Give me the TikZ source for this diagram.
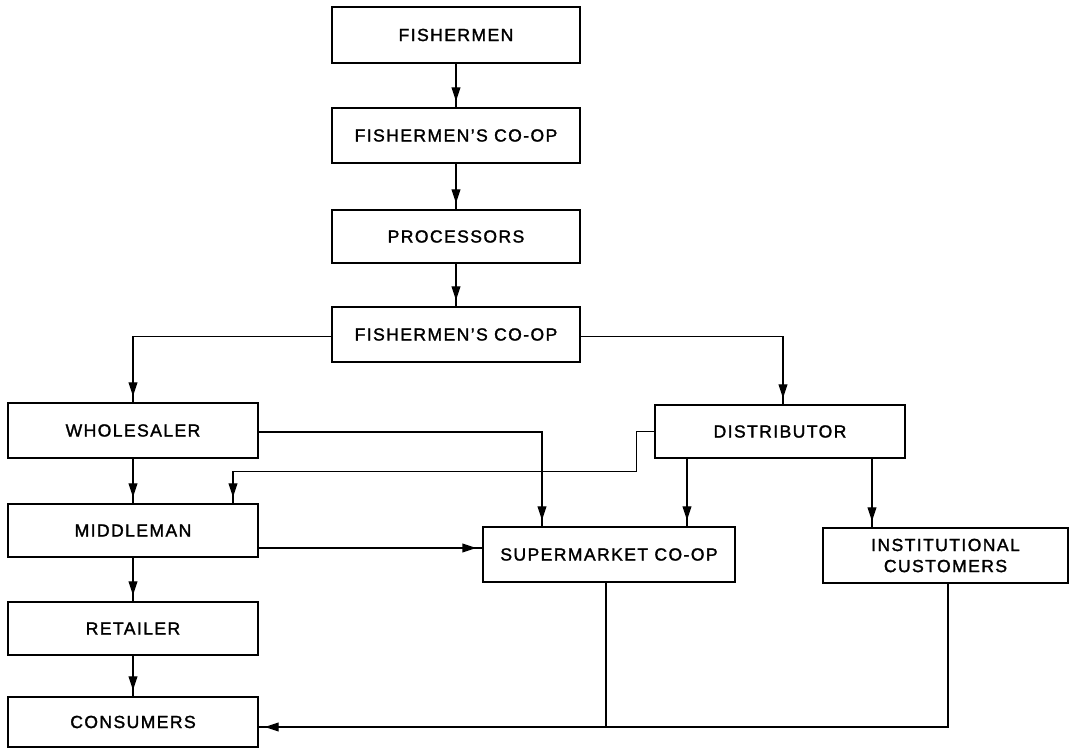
\documentclass[tikz,border=0pt]{standalone}
\usepackage{fontspec}
\newfontfamily\boxfont[LetterSpace=8,FakeBold=1.6]{Liberation Sans}
\usetikzlibrary{arrows.meta,calc,decorations.markings}
\tikzset{
  box/.style={draw, line width=1.6pt, inner sep=0pt, align=center,
    font=\boxfont\fontsize{10}{12}\selectfont,
    minimum width=5cm, minimum height=1.08cm},
  conn/.style={line width=0.8pt},
  arr/.style={conn, postaction={decorate},
    decoration={markings, mark=at position -3pt with {\arrow{Triangle[length=8pt,width=5pt]}}}}
}
\begin{document}
\begin{tikzpicture}[x=0.02cm,y=-0.02cm]
\useasboundingbox (0,0) rectangle (1070,749);
% nodes
\node[box, minimum width=4.96cm, minimum height=1.12cm] (b1) at (456,35) {FISHERMEN};
\node[box, minimum width=4.96cm, minimum height=1.1cm] (b2) at (456,135.5) {FISHERMEN’S CO-OP};
\node[box, minimum width=4.96cm, minimum height=1.06cm] (b3) at (456,236.5) {PROCESSORS};
\node[box, minimum width=4.96cm, minimum height=1.1cm] (b4) at (456,334.5) {FISHERMEN’S CO-OP};
\node[box, minimum height=1.1cm] (wh) at (133,430.5) {WHOLESALER};
\node[box, minimum height=1.06cm] (di) at (780,431.5) {DISTRIBUTOR};
\node[box, minimum height=1.06cm] (mi) at (133,530.5) {MIDDLEMAN};
\node[box, minimum width=5.04cm, minimum height=1.1cm] (su) at (609,554.5) {SUPERMARKET CO-OP};
\node[box, minimum width=4.9cm, minimum height=1.1cm] (in) at (945.5,555.5) {INSTITUTIONAL\\CUSTOMERS};
\node[box, minimum height=1.06cm] (re) at (133,628.5) {RETAILER};
\node[box, minimum height=1.0cm] (co) at (133,722) {CONSUMERS};
% vertical chain
\draw[arr] (b1) -- (b2);
\draw[arr] (b2) -- (b3);
\draw[arr] (b3) -- (b4);
% split
\draw[arr] ($(b4.west)+(0,2)$) -| (wh.north);
\draw[arr] ($(b4.east)+(0,2)$) -| ($(di.north)+(3,0)$);
% wholesaler
\draw[arr] (wh) -- (mi);
\coordinate (w1) at ($(su.north)+(-67,0)$);
\draw[arr] ($(wh.east)+(0,1.5)$) -| (w1);
% distributor
\coordinate (m2) at ($(mi.north)+(100,0)$);
\draw[arr] (di.west) -- ++(-17,0) -- ++(0,40) -| (m2);
\coordinate (d1) at ($(di.south)+(-93,0)$);
\draw[arr] (d1) -- (d1 |- su.north);
\coordinate (d2) at ($(di.south)+(92,0)$);
\draw[arr] (d2) -- (d2 |- in.north);
% middleman
\coordinate (m1) at ($(mi.east)+(0,17.5)$);
\draw[arr] (m1) -- (m1 -| su.west);
\draw[arr] (mi) -- (re);
\draw[arr] (re) -- (co);
% to consumers
\coordinate (c1) at ($(co.east)+(0,5)$);
\coordinate (s1) at ($(su.south)+(-3,0)$);
\coordinate (i1) at ($(in.south)+(2.5,0)$);
\draw[conn] (s1) -- (s1 |- c1);
\draw[arr] (i1) -- (i1 |- c1) -- (c1);
\end{tikzpicture}
\end{document}
